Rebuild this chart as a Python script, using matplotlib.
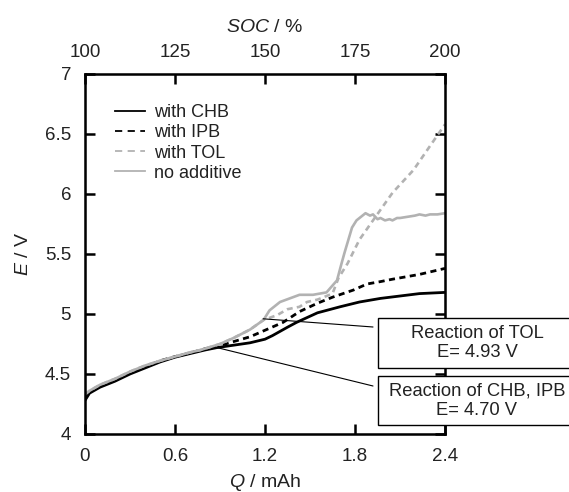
import matplotlib
matplotlib.use("Agg")
import matplotlib.pyplot as plt
from matplotlib.patches import Rectangle
from matplotlib.lines import Line2D

plt.rcParams['font.family'] = ['Liberation Sans', 'DejaVu Sans']
plt.rcParams['mathtext.fontset'] = 'custom'
plt.rcParams['mathtext.rm'] = 'Liberation Sans'
plt.rcParams['mathtext.it'] = 'Liberation Sans:italic'

# ---- data ----
q_chb = [0, 0.03, 0.1, 0.2, 0.3, 0.4, 0.5, 0.6, 0.7, 0.8, 0.88, 0.99, 1.1, 1.2,
         1.25, 1.35, 1.41, 1.55, 1.7, 1.83, 1.97, 2.1, 2.23, 2.4]
e_chb = [4.28, 4.34, 4.39, 4.44, 4.50, 4.55, 4.60, 4.64, 4.67, 4.70, 4.72, 4.74, 4.76, 4.79,
         4.82, 4.89, 4.93, 5.01, 5.06, 5.10, 5.13, 5.15, 5.17, 5.18]

q_ipb = [0, 0.03, 0.1, 0.2, 0.3, 0.4, 0.5, 0.6, 0.7, 0.8, 0.88, 0.99, 1.1, 1.21,
         1.32, 1.43, 1.55, 1.65, 1.79, 1.88, 1.97, 2.05, 2.23, 2.4]
e_ipb = [4.32, 4.35, 4.40, 4.45, 4.51, 4.56, 4.61, 4.645, 4.675, 4.71, 4.73, 4.77, 4.81, 4.87,
         4.93, 5.02, 5.09, 5.14, 5.20, 5.25, 5.27, 5.29, 5.33, 5.38]

q_tol = [0, 0.03, 0.1, 0.2, 0.3, 0.4, 0.5, 0.6, 0.7, 0.77, 0.9, 0.99, 1.1, 1.19,
         1.28, 1.35, 1.43, 1.48, 1.55, 1.65, 1.69, 1.75, 1.83, 1.92, 2.05, 2.19, 2.3, 2.4]
e_tol = [4.33, 4.36, 4.41, 4.46, 4.52, 4.57, 4.61, 4.645, 4.68, 4.70, 4.75, 4.80, 4.87, 4.95,
         4.99, 5.04, 5.06, 5.10, 5.12, 5.17, 5.30, 5.42, 5.62, 5.78, 6.01, 6.20, 6.40, 6.58]

q_none = [0, 0.03, 0.1, 0.2, 0.3, 0.4, 0.5, 0.6, 0.7, 0.77, 0.9, 0.99, 1.1, 1.19,
          1.23, 1.3, 1.43, 1.52, 1.61, 1.68, 1.71, 1.73, 1.78, 1.81, 1.85, 1.87, 1.9, 1.92,
          1.95, 1.97, 2.0, 2.03, 2.05, 2.08, 2.1, 2.15, 2.2, 2.23, 2.27, 2.3, 2.35, 2.4]
e_none = [4.33, 4.36, 4.41, 4.46, 4.52, 4.57, 4.61, 4.645, 4.68, 4.70, 4.75, 4.80, 4.87, 4.95,
          5.03, 5.10, 5.16, 5.16, 5.18, 5.28, 5.42, 5.51, 5.72, 5.78, 5.82, 5.84, 5.82, 5.83,
          5.79, 5.80, 5.78, 5.79, 5.78, 5.80, 5.80, 5.81, 5.82, 5.83, 5.82, 5.83, 5.83, 5.84]

labels = ['with CHB', 'with IPB', 'with TOL', 'no additive']
x_ticks = [0, 0.6, 1.2, 1.8, 2.4]
x_ticklabels = ['0', '0.6', '1.2', '1.8', '2.4']
y_ticks = [4, 4.5, 5, 5.5, 6, 6.5, 7]
y_ticklabels = ['4', '4.5', '5', '5.5', '6', '6.5', '7']
soc_ticks = [100, 125, 150, 175, 200]
notes = ['Reaction of TOL\nE= 4.93 V', 'Reaction of CHB, IPB\nE= 4.70 V']
note_points = [(1.187, 4.96), (0.88, 4.72)]

gray = '#b2b2b2'
txt_col = '#222222'
W, H = 569, 492
fig = plt.figure(figsize=(W / 100, H / 100), dpi=100)
ax = fig.add_axes([85 / W, 1 - 434 / H, 360 / W, 360 / H])

ax.plot(q_chb, e_chb, color='black', lw=2.0, label=labels[0])
ax.plot(q_ipb, e_ipb, color='black', lw=2.0, ls=(0, (2.2, 1.6)), label=labels[1])
ax.plot(q_tol, e_tol, color=gray, lw=1.9, ls=(0, (2.2, 1.6)), label=labels[2])
ax.plot(q_none, e_none, color=gray, lw=1.9, label=labels[3])

ax.set_xlim(0, 2.4)
ax.set_ylim(4, 7)
ax.set_xticks(x_ticks)
ax.set_xticklabels(x_ticklabels)
ax.set_yticks(y_ticks)
ax.set_yticklabels(y_ticklabels)
ax.tick_params(direction='in', length=7, width=1.8, labelsize=13.5, pad=10,
               top=False, right=True, color='black', labelcolor=txt_col)
for s in ax.spines.values():
    s.set_linewidth(1.8)

ax.set_xlabel('$\\it{Q}$ / mAh', fontsize=14, labelpad=5, color=txt_col)
ax.set_ylabel('$\\it{E}$ / V', fontsize=14, labelpad=9, color=txt_col)

top = ax.twiny()
top.set_xlim(100, 200)
top.set_xticks(soc_ticks)
top.tick_params(direction='in', length=7, width=1.8, labelsize=13.5, pad=9,
                color='black', labelcolor=txt_col)
top.set_xlabel('$\\it{SOC}$ / %', fontsize=14, labelpad=9, color=txt_col)

handles = [Line2D([], [], color='black', lw=1.3),
           Line2D([], [], color='black', lw=1.3, ls=(0, (4, 3))),
           Line2D([], [], color=gray, lw=1.3, ls=(0, (4, 3))),
           Line2D([], [], color=gray, lw=1.3)]
leg = ax.legend(handles, labels, loc='upper left', bbox_to_anchor=(30 / 360, 1 - 30 / 360),
                frameon=False, fontsize=13, handlelength=1.65, handletextpad=0.5,
                labelspacing=0.18, borderpad=0, borderaxespad=0)
for t in leg.get_texts():
    t.set_color(txt_col)

boxes = [(378, H - 368, 198, 50), (378, H - 425, 198, 49)]
ends = [(373, H - 327), (373, H - 386)]
for (bx, by, bw, bh), txt, pt, end in zip(boxes, notes, note_points, ends):
    fig.patches.append(Rectangle((bx / W, by / H), bw / W, bh / H, transform=fig.transFigure,
                                 facecolor='white', edgecolor='black', lw=1.0, zorder=5))
    fig.text((bx + bw / 2) / W, (by + bh / 2) / H, txt, ha='center', va='center',
             fontsize=13.2, linespacing=1.22, zorder=6, color=txt_col)
    ax.annotate('', xy=pt, xycoords='data', xytext=end, textcoords='figure pixels',
                arrowprops=dict(arrowstyle='-', lw=0.8, color='black',
                                shrinkA=0, shrinkB=0), annotation_clip=False)

fig.savefig('out.png', dpi=100)
